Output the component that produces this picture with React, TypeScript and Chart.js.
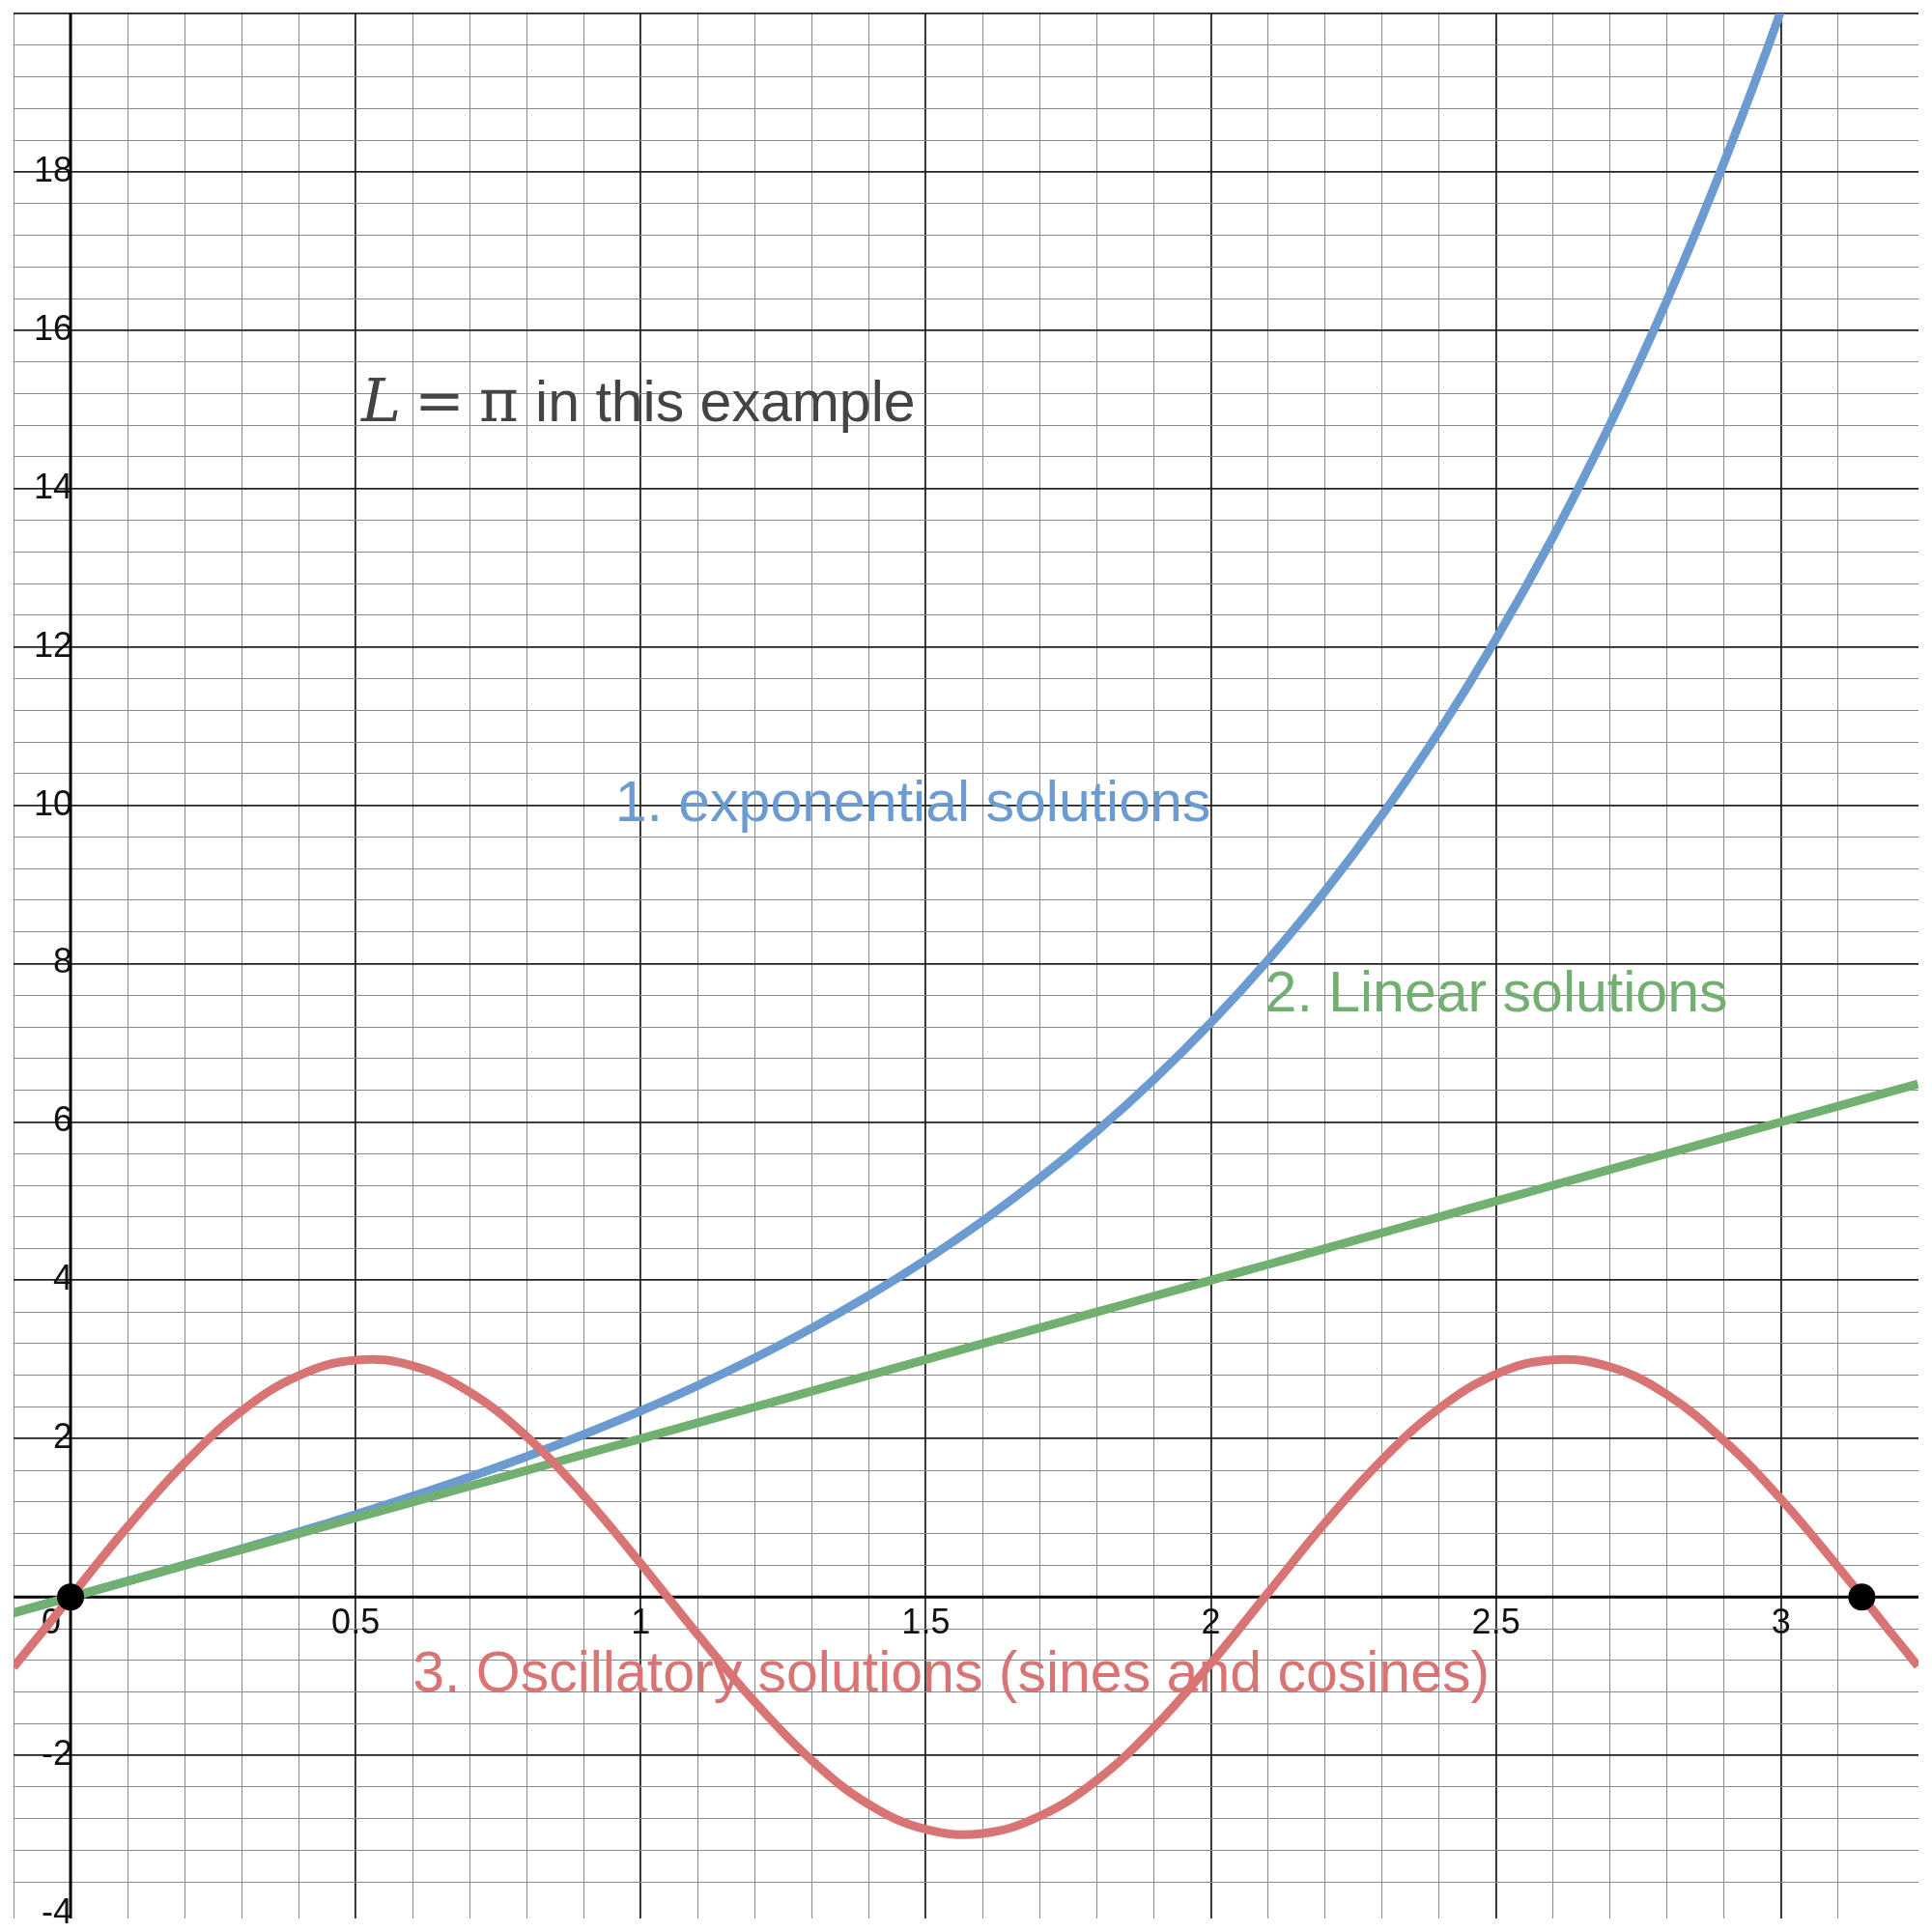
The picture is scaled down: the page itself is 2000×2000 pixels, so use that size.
import { useEffect, useRef } from 'react';
import { Chart, registerables } from 'chart.js';

Chart.register(...registerables);

const xs = [-0.1, 0, 0.1, 0.2, 0.3, 0.4, 0.5, 0.6, 0.7, 0.8, 0.9, 1.0, 1.1, 1.2, 1.3, 1.4, 1.5, 1.6, 1.7, 1.8, 1.9, 2.0, 2.1, 2.2, 2.3, 2.4, 2.5, 2.6, 2.7, 2.8, 2.9, 3.0, 3.1, 3.2, 3.24];
const expVals = [-0.2, 0, 0.2, 0.403, 0.609, 0.822, 1.042, 1.273, 1.517, 1.776, 2.053, 2.35, 2.671, 3.019, 3.396, 3.808, 4.259, 4.751, 5.291, 5.884, 6.536, 7.254, 8.044, 8.914, 9.875, 10.93, 12.1, 13.39, 14.81, 16.38, 18.12, 20.04, 22.2, 24.5, 25.5];
const linVals = [-0.2, 0, 0.2, 0.4, 0.6, 0.8, 1.0, 1.2, 1.4, 1.6, 1.8, 2.0, 2.2, 2.4, 2.6, 2.8, 3.0, 3.2, 3.4, 3.6, 3.8, 4.0, 4.2, 4.4, 4.6, 4.8, 5.0, 5.2, 5.4, 5.6, 5.8, 6.0, 6.2, 6.4, 6.48];
const oscVals = [-0.887, 0, 0.887, 1.694, 2.35, 2.796, 2.992, 2.921, 2.588, 2.027, 1.282, 0.423, -0.474, -1.325, -2.064, -2.619, -2.934, -2.986, -2.767, -2.314, -1.65, -0.838, 0.05, 0.934, 1.731, 2.379, 2.814, 2.996, 2.907, 2.556, 1.975, 1.236, 0.38, -0.516, -0.873];
const dotPoints = [{ x: 0, y: 0 }, { x: 3.1416, y: 0 }];

const xTickLabels = [0, 0.5, 1, 1.5, 2, 2.5, 3];
const yTickLabels = [-4, -2, 2, 4, 6, 8, 10, 12, 14, 16, 18];

const notes = [
  { text: 'in this example', x: 0.815, y: 15.05, color: '#444444' },
  { text: '1. exponential solutions', x: 0.955, y: 10, color: '#6b9bd1' },
  { text: '2. Linear solutions', x: 2.095, y: 7.6, color: '#71b071' },
  { text: '3. Oscillatory solutions (sines and cosines)', x: 0.6, y: -1.0, color: '#d97474' },
];

const near = (v: number, step: number) => Math.abs(v / step - Math.round(v / step)) < 1e-6;

const overlay = {
  id: 'overlay',
  beforeDatasetsDraw(chart: any) {
    const { ctx, scales, chartArea } = chart;
    const x0 = scales.x.getPixelForValue(0);
    const y0 = scales.y.getPixelForValue(0);
    ctx.save();
    ctx.strokeStyle = '#000';
    ctx.lineWidth = 3;
    ctx.beginPath();
    ctx.moveTo(x0, chartArea.top); ctx.lineTo(x0, chartArea.bottom);
    ctx.moveTo(chartArea.left, y0); ctx.lineTo(chartArea.right, y0);
    ctx.stroke();
    ctx.fillStyle = '#111';
    ctx.font = '36px Arial, "Liberation Sans", sans-serif';
    ctx.textAlign = 'center';
    ctx.textBaseline = 'top';
    xTickLabels.forEach((v) => {
      const px = scales.x.getPixelForValue(v);
      ctx.fillText(String(v), v === 0 ? px - 20 : px, y0 + 10);
    });
    ctx.textAlign = 'right';
    ctx.textBaseline = 'middle';
    yTickLabels.forEach((v) => {
      ctx.fillText(String(v), x0 + 2, scales.y.getPixelForValue(v));
    });
    ctx.restore();
  },
  afterDraw(chart: any) {
    const { ctx, scales } = chart;
    ctx.save();
    ctx.textBaseline = 'middle';
    ctx.textAlign = 'left';
    notes.forEach((n) => {
      ctx.fillStyle = n.color;
      ctx.font = '59px Arial, "Liberation Sans", sans-serif';
      ctx.fillText(n.text, scales.x.getPixelForValue(n.x), scales.y.getPixelForValue(n.y));
    });
    // L = π
    ctx.fillStyle = '#444444';
    ctx.font = 'italic 62px "DejaVu Serif", serif';
    const px = scales.x.getPixelForValue(0.51);
    const py = scales.y.getPixelForValue(15.05);
    ctx.fillText('L', px, py);
    ctx.font = '62px "DejaVu Serif", serif';
    ctx.fillText('=', px + 55, py);
    ctx.fillText('π', px + 122, py);
    ctx.restore();
  },
};

const App = () => {
  const chartRef = useRef<HTMLCanvasElement>(null);

  useEffect(() => {
    const ctx = chartRef.current!.getContext('2d')!;
    const pts = (vals: number[]) => xs.map((x, i) => ({ x, y: vals[i] }));
    const line = (data: any, color: string) => ({
      data, borderColor: color, borderWidth: 9, pointRadius: 0, showLine: true, tension: 0.4,
    });
    const chartInstance = new Chart(ctx, {
      type: 'scatter',
      data: {
        datasets: [
          { data: dotPoints, pointRadius: 14, pointBackgroundColor: '#000', pointBorderWidth: 0, showLine: false },
          line(pts(oscVals), '#d97474'),
          line(pts(linVals), '#71b071'),
          line(pts(expVals), '#6b9bd1'),
        ] as any,
      },
      plugins: [overlay],
      options: {
        animation: false,
        responsive: true,
        maintainAspectRatio: false,
        devicePixelRatio: 1,
        layout: { padding: 0 },
        plugins: { legend: { display: false }, tooltip: { enabled: false } },
        scales: {
          x: {
            type: 'linear', min: -0.1, max: 3.241,
            border: { display: false },
            ticks: { stepSize: 0.1, display: false, padding: 0 },
            afterFit: (s: any) => { s.height = 0; },
            grid: {
              drawTicks: false,
              color: (c: any) => near(c.tick.value, 0.5) ? '#222' : near(c.tick.value, 0.1) ? '#8a8a8a' : 'rgba(0,0,0,0)',
              lineWidth: (c: any) => near(c.tick.value, 0.5) ? 1.8 : 1,
            },
          },
          y: {
            type: 'linear', min: -4.06, max: 20,
            border: { display: false },
            ticks: { stepSize: 0.4, display: false, padding: 0 },
            afterFit: (s: any) => { s.width = 0; },
            grid: {
              drawTicks: false,
              color: (c: any) => near(c.tick.value, 2) ? '#222' : near(c.tick.value, 0.4) ? '#8a8a8a' : 'rgba(0,0,0,0)',
              lineWidth: (c: any) => near(c.tick.value, 2) ? 1.8 : 1,
            },
          },
        },
      } as any,
    });
    return () => {
      chartInstance.destroy();
    };
  }, []);

  return (
    <div style={{ position: 'absolute', left: 0, top: 0, width: 2000, height: 2000, background: '#fff' }}>
      <canvas ref={chartRef} />
    </div>
  );
};

export default App;
